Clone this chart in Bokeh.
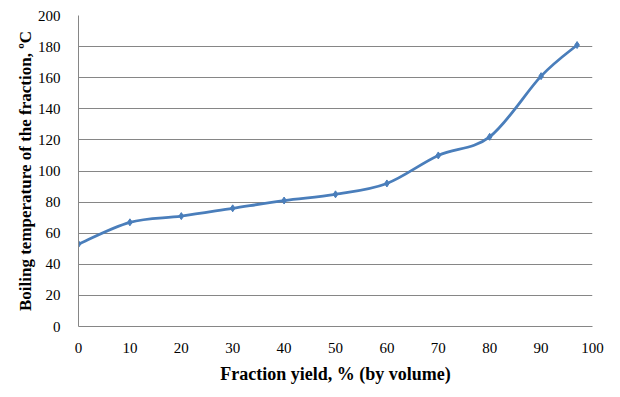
from bokeh.plotting import figure
from bokeh.models import ColumnDataSource, FixedTicker, Range1d
from bokeh.embed import file_html
from bokeh.resources import INLINE

yield_pct = [0, 10, 20, 30, 40, 50, 60, 70, 80, 90, 97]
boil_temp = [53, 67, 71, 76, 81, 85, 92, 110, 122, 161, 181]
x_ticks = [0, 10, 20, 30, 40, 50, 60, 70, 80, 90, 100]
y_ticks = [0, 20, 40, 60, 80, 100, 120, 140, 160, 180, 200]

LINE = "#4A7EBB"
GRID = "#868686"
FONT = "Liberation Serif"

# smoothed line (Catmull-Rom style Bezier control points, as in spreadsheet "smoothed line")
n = len(yield_pct)
px = [yield_pct[0]] + yield_pct + [yield_pct[-1]]
py = [boil_temp[0]] + boil_temp + [boil_temp[-1]]
seg = dict(x0=[], y0=[], x1=[], y1=[], cx0=[], cy0=[], cx1=[], cy1=[])
for i in range(n - 1):
    j = i + 1
    seg["x0"].append(px[j]); seg["y0"].append(py[j])
    seg["x1"].append(px[j + 1]); seg["y1"].append(py[j + 1])
    seg["cx0"].append(px[j] + (px[j + 1] - px[j - 1]) / 6)
    seg["cy0"].append(py[j] + (py[j + 1] - py[j - 1]) / 6)
    seg["cx1"].append(px[j + 1] - (px[j + 2] - px[j]) / 6)
    seg["cy1"].append(py[j + 1] - (py[j + 2] - py[j]) / 6)

p = figure(width=604, height=389, output_backend="svg", toolbar_location=None,
           x_range=Range1d(0, 100), y_range=Range1d(0, 200),
           min_border_left=78, min_border_right=12, min_border_top=15, min_border_bottom=63)
p.outline_line_color = None
p.background_fill_color = "white"

p.bezier(x0="x0", y0="y0", x1="x1", y1="y1", cx0="cx0", cy0="cy0", cx1="cx1", cy1="cy1",
         source=ColumnDataSource(seg), line_color=LINE, line_width=2.8)
p.scatter(yield_pct, boil_temp, marker="diamond", size=7, fill_color=LINE, line_color=LINE)

p.xgrid.grid_line_color = None
p.ygrid.grid_line_color = GRID
p.ygrid.grid_line_width = 1
p.xaxis.ticker = FixedTicker(ticks=x_ticks)
p.yaxis.ticker = FixedTicker(ticks=y_ticks)

for ax in (p.xaxis[0], p.yaxis[0]):
    ax.axis_line_color = GRID
    ax.major_tick_line_color = None
    ax.minor_tick_line_color = None
    ax.major_label_text_font = FONT
    ax.major_label_text_font_size = "15px"
    ax.major_label_text_color = "black"
    ax.axis_label_text_font = FONT
    ax.axis_label_text_font_style = "bold"
    ax.axis_label_text_color = "black"

p.xaxis.axis_label = "Fraction yield, % (by volume)"
p.yaxis.axis_label = "Boiling temperature of the fraction, ºC"
p.xaxis.axis_label_text_font_size = "18px"
p.yaxis.axis_label_text_font_size = "17px"
p.xaxis.major_label_standoff = 10
p.yaxis.major_label_standoff = 12
p.xaxis.axis_label_standoff = 8
p.yaxis.axis_label_standoff = 0

open("out.html", "w").write(file_html(p, INLINE))
